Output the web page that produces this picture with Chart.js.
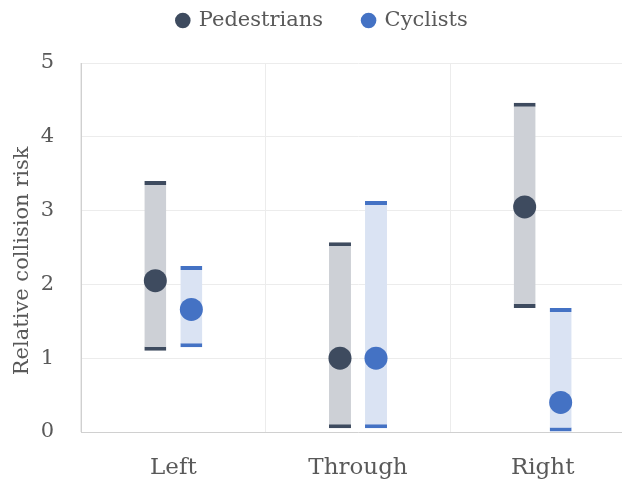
<!DOCTYPE html>
<html>
<head>
<meta charset="utf-8">
<script src="https://cdn.jsdelivr.net/npm/chart.js@4/dist/chart.umd.min.js"></script>
<style>
html,body{margin:0;padding:0;background:#fff;overflow:hidden;}
#wrap{width:622px;height:481px;position:relative;overflow:hidden;}
</style>
</head>
<body>
<div id="wrap"><canvas id="c" width="640" height="481"></canvas></div>
<script>
const categories = ["Left", "Through", "Right"];
const seriesNames = ["Pedestrians", "Cyclists"];
const pedPoint = [2.05, 1.0, 3.05];
const pedLow = [1.1, 0.05, 1.68];
const pedHigh = [3.4, 2.57, 4.46];
const cycPoint = [1.66, 1.0, 0.4];
const cycLow = [1.15, 0.05, 0.0];
const cycHigh = [2.25, 3.13, 1.68];
const yTicks = [0, 1, 2, 3, 4, 5];

const FONT = "'DejaVu Serif', serif";
const pedDark = "#3e4b5f";
const pedFill = "#cdd0d6";
const cycDark = "#4472c4";
const cycFill = "#dae3f3";

const pointValues = [pedPoint, cycPoint];
const pointColors = [pedDark, cycDark];

const pointPlugin = {
  id: 'pointPlugin',
  afterDatasetsDraw(chart) {
    const ctx = chart.ctx;
    const y = chart.scales.y;
    chart.data.datasets.forEach((ds, di) => {
      const meta = chart.getDatasetMeta(di);
      meta.data.forEach((bar, i) => {
        ctx.save();
        ctx.beginPath();
        ctx.arc(bar.x, y.getPixelForValue(pointValues[di][i]), 11.5, 0, Math.PI * 2);
        ctx.fillStyle = pointColors[di];
        ctx.fill();
        ctx.restore();
      });
    });
  }
};

const LEGEND_PAD = 40;
const legendSpace = {
  id: 'legendSpace',
  beforeInit(chart) {
    const lg = chart.legend;
    const origFit = lg.fit;
    lg.fit = function () {
      origFit.apply(this, arguments);
      this.height = 63;
    };
    const origDraw = lg.draw;
    lg.draw = function () {
      const ctx = this.ctx;
      ctx.save();
      ctx.translate(0, -LEGEND_PAD + 10);
      origDraw.apply(this, arguments);
      ctx.restore();
    };
  }
};

new Chart(document.getElementById('c'), {
  type: 'bar',
  data: {
    labels: categories,
    datasets: [
      {
        label: seriesNames[0],
        data: pedLow.map((v, i) => [v, pedHigh[i]]),
        backgroundColor: pedFill,
        borderColor: pedDark,
        borderWidth: {top: 4, bottom: 4, left: 0, right: 0},
        borderSkipped: false,
        categoryPercentage: 0.39,
        barPercentage: 0.61
      },
      {
        label: seriesNames[1],
        data: cycLow.map((v, i) => [v, cycHigh[i]]),
        backgroundColor: cycFill,
        borderColor: cycDark,
        borderWidth: {top: 4, bottom: 4, left: 0, right: 0},
        borderSkipped: false,
        categoryPercentage: 0.39,
        barPercentage: 0.61
      }
    ]
  },
  options: {
    responsive: false,
    animation: false,
    layout: {padding: {left: 10, right: 5, top: 0, bottom: 0}},
    plugins: {
      tooltip: {enabled: false},
      legend: {
        position: 'top',
        labels: {
          usePointStyle: true,
          pointStyle: 'circle',
          boxWidth: 11,
          boxHeight: 11,
          padding: LEGEND_PAD,
          color: '#595959',
          font: {family: FONT, size: 21},
          generateLabels(chart) {
            return seriesNames.map((n, i) => ({
              text: n,
              fillStyle: pointColors[i],
              strokeStyle: pointColors[i],
              lineWidth: 0,
              pointStyle: 'circle',
              datasetIndex: i,
              fontColor: '#595959'
            }));
          }
        }
      }
    },
    scales: {
      x: {
        afterFit(scale) { scale.height = 49; },
        grid: {color: '#ececec', lineWidth: 1, drawTicks: false, offset: true},
        border: {color: '#d0d0d0'},
        ticks: {color: '#595959', font: {family: FONT, size: 23}, padding: 22}
      },
      y: {
        min: 0,
        max: 5,
        afterFit(scale) { scale.width = 71; },
        afterBuildTicks(axis) { axis.ticks = yTicks.map(v => ({value: v})); },
        grid: {color: '#ececec', lineWidth: 1, drawTicks: false},
        border: {color: '#d0d0d0'},
        ticks: {color: '#595959', font: {family: FONT, size: 21}, padding: 27},
        title: {display: true, text: 'Relative collision risk    ', color: '#595959', font: {family: FONT, size: 21}, padding: {top: 0, bottom: 0}}
      }
    }
  },
  plugins: [pointPlugin, legendSpace]
});
</script>
</body>
</html>
